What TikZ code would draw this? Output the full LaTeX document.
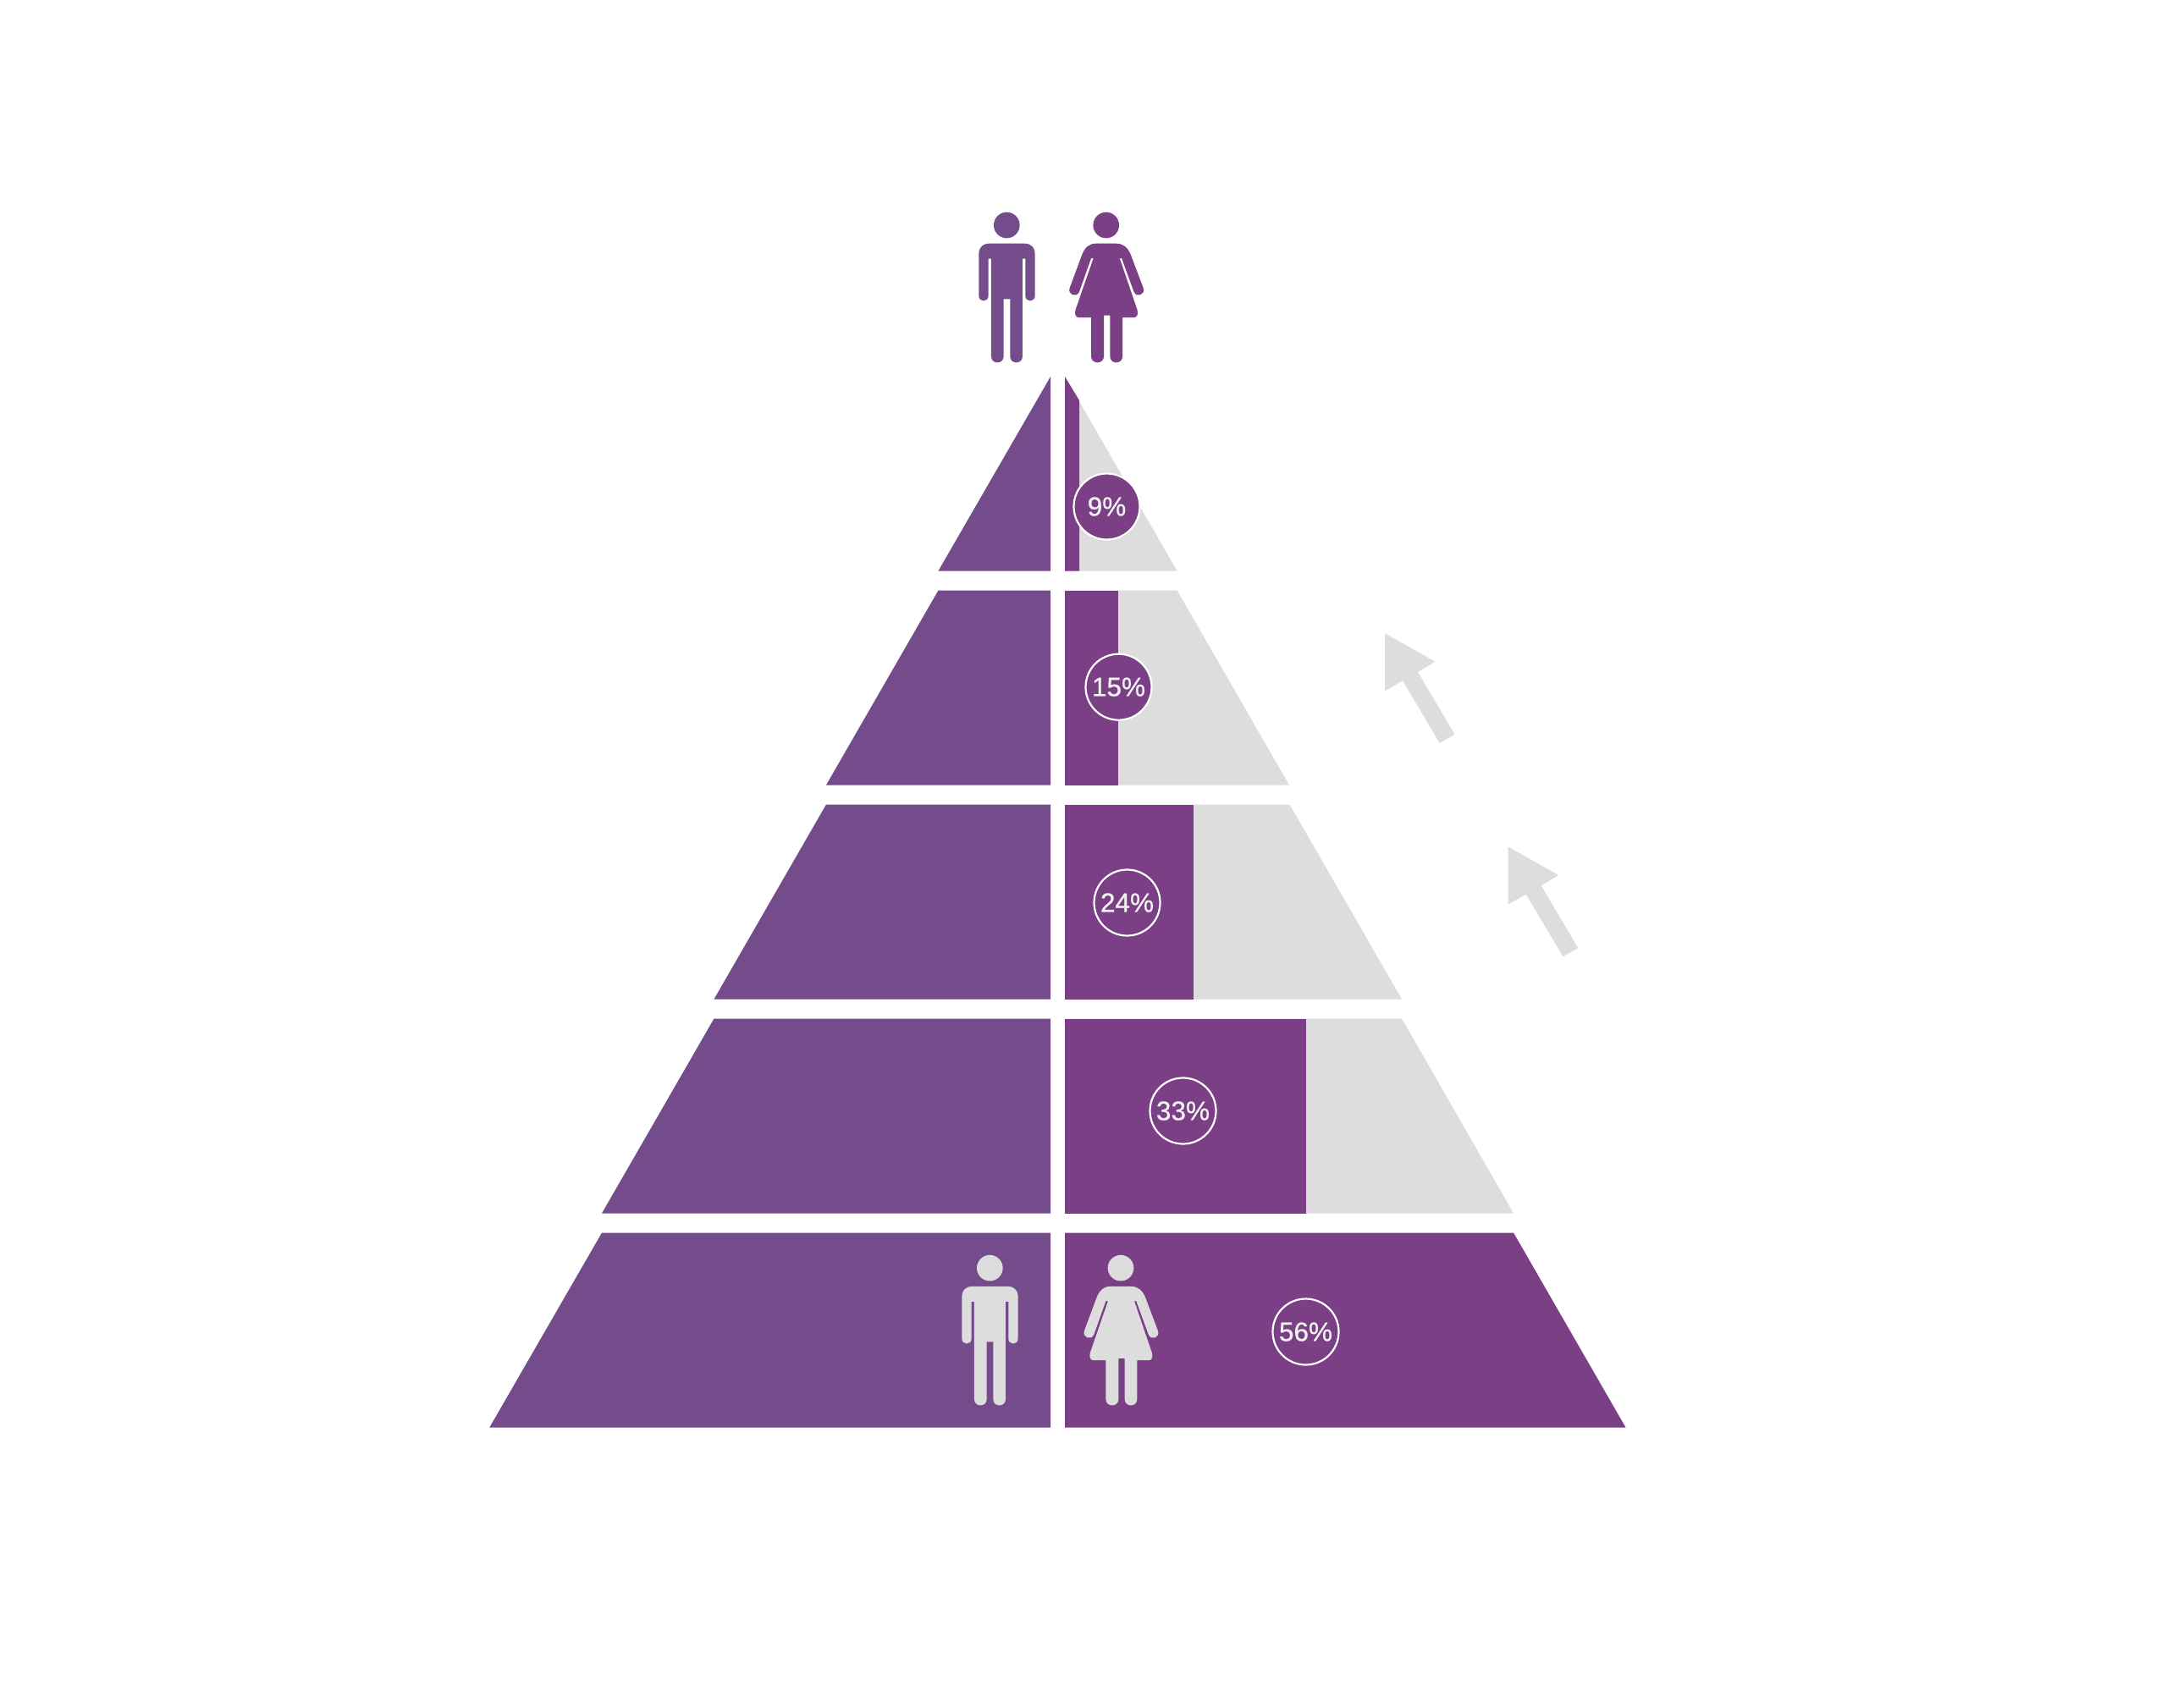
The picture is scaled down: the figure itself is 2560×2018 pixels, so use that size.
\documentclass[tikz,border=0pt]{standalone}
\usepackage{fontspec}
\setmainfont[AutoFakeBold=0.7]{Liberation Sans}
\definecolor{leftpurple}{HTML}{744C8B}
\definecolor{rightpurple}{HTML}{7A3F85}
\definecolor{lightgrey}{HTML}{DDDDDD}
\tikzset{
  leftband/.style={fill=leftpurple,draw=none},
  rightband/.style={fill=rightpurple,draw=none},
  greyband/.style={fill=lightgrey,draw=none},
  pct/.style={circle,draw=white,line width=2.2pt,fill=rightpurple,text=white!95!black,
    minimum size=78pt,inner sep=0pt,font=\fontsize{31.5}{32}\selectfont},
  riseup/.style={fill=lightgrey,draw=none}
}
\newcommand{\manicon}[3]{%
  \begin{scope}[shift={(#1,#2)},x=0.33333pt,y=-0.33333pt]
    \fill[#3] (0,46) circle (46);
    \fill[#3] (-64,111) -- (65,111) .. controls (85,111) and (100,126) .. (100,146)
      -- (100,296) .. controls (100,320) and (66,320) .. (66,296) -- (66,165) -- (56,165)
      -- (56,511) .. controls (56,540) and (12,540) .. (12,511) -- (12,308) -- (-11,308)
      -- (-11,511) .. controls (-11,540) and (-55,540) .. (-55,511) -- (-55,165) -- (-65,165)
      -- (-65,296) .. controls (-65,320) and (-99,320) .. (-99,296) -- (-99,146)
      .. controls (-99,126) and (-84,111) .. (-64,111) -- cycle;
  \end{scope}}
\newcommand{\womanicon}[3]{%
  \begin{scope}[shift={(#1,#2)},x=0.33333pt,y=-0.33333pt]
    \fill[#3] (0,46) circle (46);
    \fill[#3] (-35,111) -- (35,111) .. controls (60,111) and (77,125) .. (87,150)
      -- (131.7,268.3) .. controls (141,292) and (108,305) .. (98.3,281.7)
      -- (55,163) -- (48,163) -- (110,345) .. controls (115,360) and (110,373) .. (100,373)
      -- (58,373) -- (58,511) .. controls (58,540) and (14,540) .. (14,511) -- (14,366) -- (-8,366)
      -- (-8,511) .. controls (-8,540) and (-53,540) .. (-53,511) -- (-53,373) -- (-98,373)
      .. controls (-108,373) and (-113,360) .. (-108,345) -- (-45,163) -- (-53,163)
      -- (-95,281.7) .. controls (-105,305) and (-138,292) .. (-129,268.3)
      -- (-85,150) .. controls (-75,125) and (-60,111) .. (-35,111) -- cycle;
  \end{scope}}
\newcommand{\risearrow}[2]{%
  \begin{scope}[shift={(#1,#2)}]
    \fill[riseup] (0,0) -- (59.5,33.4) -- (39,45.7) -- (82.5,119.5) -- (64.7,129.5) -- (21,56) -- (0,68) -- cycle;
  \end{scope}}
\begin{document}
\begin{tikzpicture}[x=1pt,y=-1pt]
\useasboundingbox (0,0) rectangle (2560,2018);
\fill[white] (0,0) rectangle (2560,2018);
% left half
\fill[leftband] (1241,445) -- (1241,674.5) -- (1108.5,674.5) -- cycle;
\fill[leftband] (1241,697.5) -- (1241,927.5) -- (976,927.5) -- (1108.5,697.5) -- cycle;
\fill[leftband] (1241,950.5) -- (1241,1180.5) -- (843.5,1180.5) -- (976,950.5) -- cycle;
\fill[leftband] (1241,1203.5) -- (1241,1433.5) -- (711,1433.5) -- (843.5,1203.5) -- cycle;
\fill[leftband] (1241,1456.5) -- (1241,1686.5) -- (578.3,1686.5) -- (711,1456.5) -- cycle;
% right half, grey
\fill[greyband] (1258,445) -- (1390.5,674.5) -- (1258,674.5) -- cycle;
\fill[greyband] (1258,697.5) -- (1390.5,697.5) -- (1523,927.5) -- (1258,927.5) -- cycle;
\fill[greyband] (1258,950.5) -- (1523.5,950.5) -- (1656,1180.5) -- (1258,1180.5) -- cycle;
\fill[greyband] (1258,1203.5) -- (1656,1203.5) -- (1788,1433.5) -- (1258,1433.5) -- cycle;
% right half, purple
\fill[rightband] (1258,445) -- (1275,473) -- (1275,674.5) -- (1258,674.5) -- cycle;
\fill[rightband] (1258,697.5) rectangle (1321,927.5);
\fill[rightband] (1258,950.5) rectangle (1410,1180.5);
\fill[rightband] (1258,1203.5) rectangle (1542.5,1433.5);
\fill[rightband] (1258,1456.5) -- (1788,1456.5) -- (1920.5,1686.5) -- (1258,1686.5) -- cycle;
% percentage labels
\node[pct] (p9) at (1307.5,598.5) {\bfseries 9\%};
\node[pct] (p15) at (1321.5,811.7) {\bfseries 15\%};
\node[pct] (p24) at (1331.5,1066.5) {\bfseries 24\%};
\node[pct] (p33) at (1397.5,1312.5) {\bfseries 33\%};
\node[pct] (p56) at (1542.5,1573.5) {\bfseries 56\%};
% figures
\manicon{1189.3}{250.7}{leftpurple}
\womanicon{1306.7}{250.7}{rightpurple}
\manicon{1169.3}{1482.8}{lightgrey}
\womanicon{1324}{1482.8}{lightgrey}
% arrows
\risearrow{1636}{748.3}
\risearrow{1781.7}{1000.6}
\end{tikzpicture}
\end{document}
